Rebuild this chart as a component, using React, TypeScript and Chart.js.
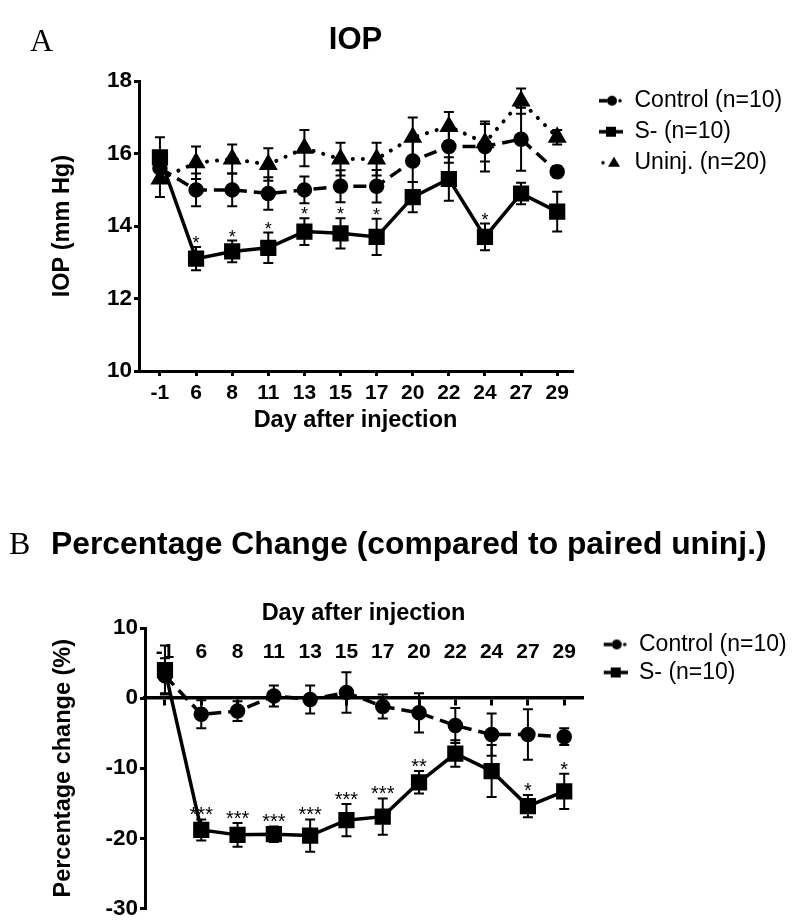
import React, { useEffect, useRef } from 'react';
import { Chart, registerables } from 'chart.js';

Chart.register(...registerables);

// ---------- data ----------
const days = ['-1', '6', '8', '11', '13', '15', '17', '20', '22', '24', '27', '29'];

// Panel A: IOP (mm Hg)
const controlA = [15.6, 15.0, 15.0, 14.9, 15.0, 15.1, 15.1, 15.8, 16.2, 16.2, 16.4, 15.5];
const controlAErr = [0.4, 0.45, 0.45, 0.45, 0.37, 0.44, 0.45, 0.58, 0.45, 0.69, 0.87, 0.15];
const sMinusA = [15.9, 13.1, 13.3, 13.4, 13.85, 13.8, 13.7, 14.8, 15.3, 13.7, 14.9, 14.4];
const sMinusAErr = [0.55, 0.32, 0.3, 0.42, 0.37, 0.42, 0.5, 0.42, 0.6, 0.37, 0.3, 0.55];
const uninjA = [15.3, 15.75, 15.85, 15.7, 16.15, 15.85, 15.85, 16.45, 16.75, 16.3, 17.45, 16.45];
const uninjAErr = [0.5, 0.45, 0.4, 0.45, 0.5, 0.45, 0.45, 0.55, 0.4, 0.52, 0.35, 0.2];
const starsA = ['', '*', '*', '*', '*', '*', '*', '', '', '*', '', ''];

// Panel B: percentage change (%)
const controlB = [3.2, -2.3, -1.85, 0.3, -0.2, 0.8, -1.2, -2.1, -3.9, -5.2, -5.2, -5.5];
const controlBErr = [2.5, 2.0, 1.4, 1.5, 2.0, 2.9, 1.7, 2.8, 2.5, 3.0, 3.6, 1.2];
const sMinusB = [4.0, -18.8, -19.5, -19.4, -19.6, -17.4, -16.9, -12.0, -7.9, -10.4, -15.4, -13.3];
const sMinusBErr = [3.5, 1.5, 1.7, 1.1, 2.3, 2.3, 2.6, 1.6, 1.9, 3.7, 1.6, 2.5];
const starsB = ['', '***', '***', '***', '***', '***', '***', '**', '', '', '*', '*'];

const labelControl = 'Control (n=10)';
const labelS = 'S- (n=10)';
const labelUninj = 'Uninj. (n=20)';

// ---------- helpers ----------
const FONT = 'Arial, "Liberation Sans", Helvetica, sans-serif';
const BLACK = '#000';

const toPoints = (vals: number[]) => vals.map((y, i) => ({ x: i, y }));

function makeSymbol(kind: string, w: number): HTMLCanvasElement {
  const c = document.createElement('canvas');
  c.width = w;
  c.height = 16;
  const ctx = c.getContext('2d') as CanvasRenderingContext2D;
  const x0 = w - 24;
  const cy = 8;
  ctx.fillStyle = BLACK;
  ctx.strokeStyle = BLACK;
  ctx.lineWidth = 3.5;
  if (kind === 'control') {
    ctx.beginPath();
    ctx.moveTo(x0, cy);
    ctx.lineTo(x0 + 8, cy);
    ctx.stroke();
    ctx.beginPath();
    ctx.arc(x0 + 13, cy, 5, 0, Math.PI * 2);
    ctx.fill();
    ctx.beginPath();
    ctx.arc(x0 + 21, cy, 1.8, 0, Math.PI * 2);
    ctx.fill();
  } else if (kind === 's') {
    ctx.beginPath();
    ctx.moveTo(x0, cy);
    ctx.lineTo(x0 + 24, cy);
    ctx.stroke();
    ctx.fillRect(x0 + 7, cy - 5, 10, 10);
  } else {
    ctx.beginPath();
    ctx.arc(x0 + 4, cy, 1.8, 0, Math.PI * 2);
    ctx.fill();
    ctx.beginPath();
    ctx.moveTo(x0 + 15, cy - 6);
    ctx.lineTo(x0 + 21, cy + 4);
    ctx.lineTo(x0 + 9, cy + 4);
    ctx.closePath();
    ctx.fill();
  }
  return c;
}

const errorStarsPlugin = {
  id: 'errStars',
  afterDatasetsDraw(chart: any, _args: any, opts: any) {
    const ctx = chart.ctx;
    const xs = chart.scales.x;
    const ys = chart.scales.y;
    ctx.save();
    chart.data.datasets.forEach((ds: any) => {
      const errs: number[] | undefined = ds.errors;
      if (!errs) return;
      ds.data.forEach((p: any, i: number) => {
        const x = xs.getPixelForValue(p.x);
        const yTop = ys.getPixelForValue(p.y + errs[i]);
        const yBot = ys.getPixelForValue(p.y - errs[i]);
        ctx.strokeStyle = BLACK;
        ctx.lineWidth = 2;
        ctx.beginPath();
        ctx.moveTo(x, yTop);
        ctx.lineTo(x, yBot);
        ctx.moveTo(x - 5, yTop);
        ctx.lineTo(x + 5, yTop);
        ctx.moveTo(x - 5, yBot);
        ctx.lineTo(x + 5, yBot);
        ctx.stroke();
        const s = ds.stars ? ds.stars[i] : '';
        if (s) {
          ctx.fillStyle = BLACK;
          ctx.font = `${opts.starSize || 18}px ${FONT}`;
          ctx.textAlign = 'center';
          ctx.textBaseline = 'alphabetic';
          ctx.fillText(s, x, yTop + 2);
        }
      });
    });
    ctx.restore();
  },
};

// lets the right-hand legend be wider than Chart.js' default cap
const legendWidthPlugin = {
  id: 'legendWidth',
  beforeLayout(chart: any, _args: any, opts: any) {
    const lg = chart.legend;
    if (lg && opts && opts.width && !lg.__widthPatched) {
      const proto = Object.getPrototypeOf(lg);
      const w = opts.width;
      lg.fit = function () {
        proto.fit.call(this);
        this.width = w;
      };
      lg.__widthPatched = true;
    }
  },
};

function legendLabels(symbols: HTMLCanvasElement[]) {
  return (chart: any) => {
    const items = Chart.defaults.plugins.legend.labels.generateLabels(chart);
    return items.map((it: any, i: number) => ({ ...it, pointStyle: symbols[i], fontColor: BLACK }));
  };
}

const axisCommon = {
  grid: { display: true, drawOnChartArea: false, drawTicks: true, color: BLACK, lineWidth: 3 },
  border: { display: true, color: BLACK, width: 3 },
};

// ---------- Panel A ----------
function PanelA() {
  const ref = useRef<HTMLCanvasElement>(null);
  useEffect(() => {
    if (!ref.current) return;
    const symbols = [makeSymbol('control', 43), makeSymbol('s', 43), makeSymbol('uninj', 43)];
    const chart = new Chart(ref.current, {
      type: 'line',
      data: {
        datasets: [
          {
            label: labelControl,
            data: toPoints(controlA),
            errors: controlAErr,
            borderColor: BLACK,
            backgroundColor: BLACK,
            borderWidth: 3.5,
            borderDash: [13, 7],
            pointStyle: 'circle',
            pointRadius: 6,
            pointBackgroundColor: BLACK,
            pointBorderColor: BLACK,
            tension: 0,
          },
          {
            label: labelS,
            data: toPoints(sMinusA),
            errors: sMinusAErr,
            stars: starsA,
            borderColor: BLACK,
            backgroundColor: BLACK,
            borderWidth: 3.5,
            pointStyle: 'rect',
            pointRadius: 9,
            pointBackgroundColor: BLACK,
            pointBorderColor: BLACK,
            tension: 0,
          },
          {
            label: labelUninj,
            data: toPoints(uninjA),
            errors: uninjAErr,
            borderColor: BLACK,
            backgroundColor: BLACK,
            borderWidth: 4,
            borderDash: [0.1, 10],
            borderCapStyle: 'round',
            pointStyle: 'triangle',
            pointRadius: 7,
            pointBackgroundColor: BLACK,
            pointBorderColor: BLACK,
            tension: 0,
          },
        ] as any,
      },
      options: {
        animation: false,
        responsive: false,
        layout: { padding: { left: 40, right: 0, top: 14, bottom: 25 } },
        plugins: {
          title: {
            display: true,
            text: 'IOP',
            fullSize: false,
            color: BLACK,
            font: { family: FONT, size: 31, weight: 'bold' },
            padding: { top: 8, bottom: 22 },
          },
          legend: {
            position: 'right',
            align: 'start',
            fullSize: false,
            labels: {
              usePointStyle: true,
              pointStyleWidth: 43,
              padding: 8,
              color: BLACK,
              font: { family: FONT, size: 23 },
              generateLabels: legendLabels(symbols),
            },
          },
          legendWidth: { width: 223 },
          tooltip: { enabled: false },
          errStars: { starSize: 18 },
        } as any,
        scales: {
          x: {
            type: 'linear',
            min: -0.58,
            max: 11.41,
            afterBuildTicks: (s: any) => {
              s.ticks = days.map((_, i) => ({ value: i }));
            },
            ticks: {
              autoSkip: false,
              maxRotation: 0,
              padding: 5,
              color: BLACK,
              font: { family: FONT, size: 21, weight: 'bold' },
              callback: (v: any) => days[v as number],
            },
            grid: { ...axisCommon.grid, tickLength: 5 },
            border: axisCommon.border,
            title: {
              display: true,
              text: 'Day after injection',
              color: BLACK,
              font: { family: FONT, size: 23.5, weight: 'bold' },
              padding: { top: 1, bottom: 0 },
            },
            afterFit: (s: any) => {
              s.height = 64;
            },
          },
          y: {
            min: 10,
            max: 18,
            ticks: {
              stepSize: 2,
              padding: 2,
              color: BLACK,
              font: { family: FONT, size: 22.5, weight: 'bold' },
            },
            grid: { ...axisCommon.grid, tickLength: 5 },
            border: axisCommon.border,
            title: {
              display: true,
              text: 'IOP (mm Hg)',
              color: BLACK,
              font: { family: FONT, size: 23.5, weight: 'bold' },
              padding: { top: 8, bottom: 0 },
            },
            afterFit: (s: any) => {
              s.width = 99;
            },
          },
        } as any,
      },
      plugins: [errorStarsPlugin, legendWidthPlugin],
    });
    return () => chart.destroy();
  }, []);
  return <canvas ref={ref} width={795} height={460} style={{ position: 'absolute', left: 0, top: 0, width: 795, height: 460 }} />;
}

// ---------- Panel B ----------
function PanelB() {
  const ref = useRef<HTMLCanvasElement>(null);
  useEffect(() => {
    if (!ref.current) return;
    const symbols = [makeSymbol('control', 41), makeSymbol('s', 41)];
    const chart = new Chart(ref.current, {
      type: 'line',
      data: {
        datasets: [
          {
            label: labelControl,
            data: toPoints(controlB),
            errors: controlBErr,
            borderColor: BLACK,
            backgroundColor: BLACK,
            borderWidth: 3.5,
            borderDash: [13, 7],
            pointStyle: 'circle',
            pointRadius: 6,
            pointBackgroundColor: BLACK,
            pointBorderColor: BLACK,
            tension: 0,
          },
          {
            label: labelS,
            data: toPoints(sMinusB),
            errors: sMinusBErr,
            stars: starsB,
            borderColor: BLACK,
            backgroundColor: BLACK,
            borderWidth: 3.5,
            pointStyle: 'rect',
            pointRadius: 9,
            pointBackgroundColor: BLACK,
            pointBorderColor: BLACK,
            tension: 0,
          },
        ] as any,
      },
      options: {
        animation: false,
        responsive: false,
        layout: { padding: { left: 40, right: 0, top: 68, bottom: 5 } },
        plugins: {
          legend: {
            position: 'right',
            align: 'start',
            fullSize: false,
            labels: {
              usePointStyle: true,
              pointStyleWidth: 40.5,
              padding: 5,
              color: BLACK,
              font: { family: FONT, size: 23 },
              generateLabels: legendLabels(symbols),
            },
          },
          legendWidth: { width: 213 },
          tooltip: { enabled: false },
          errStars: { starSize: 20 },
        } as any,
        scales: {
          x: {
            type: 'linear',
            position: { y: 0 },
            min: -0.55,
            max: 11.49,
            afterBuildTicks: (s: any) => {
              s.ticks = days.map((_, i) => ({ value: i }));
            },
            ticks: {
              autoSkip: false,
              maxRotation: 0,
              padding: -65,
              color: BLACK,
              font: { family: FONT, size: 21, weight: 'bold' },
              callback: (v: any) => days[v as number],
            },
            grid: { ...axisCommon.grid, tickLength: 6 },
            border: { display: true, color: BLACK, width: 3.5 },
            title: {
              display: true,
              text: 'Day after injection',
              color: BLACK,
              font: { family: FONT, size: 23.5, weight: 'bold' },
              padding: { top: 0, bottom: 73 },
            },
            afterFit: (s: any) => {
              s.height = 2;
            },
          },
          y: {
            min: -30,
            max: 10,
            ticks: {
              stepSize: 10,
              padding: 2,
              color: BLACK,
              font: { family: FONT, size: 22.5, weight: 'bold' },
            },
            grid: { ...axisCommon.grid, tickLength: 5 },
            border: axisCommon.border,
            title: {
              display: true,
              text: 'Percentage change (%)',
              color: BLACK,
              font: { family: FONT, size: 23.5, weight: 'bold' },
              padding: { top: 9, bottom: 0 },
            },
            afterFit: (s: any) => {
              s.width = 105;
            },
          },
        } as any,
      },
      plugins: [errorStarsPlugin, legendWidthPlugin],
    });
    return () => chart.destroy();
  }, []);
  return <canvas ref={ref} width={795} height={364} style={{ position: 'absolute', left: 0, top: 560, width: 795, height: 364 }} />;
}

export default function App() {
  return (
    <div style={{ position: 'absolute', left: 0, top: 0, width: 795, height: 924, overflow: 'hidden', background: '#fff' }}>
      <PanelA />
      <PanelB />
      <div style={{ position: 'absolute', left: 30, top: 24, fontFamily: '"Liberation Serif", "Times New Roman", serif', fontSize: 32, lineHeight: '32px', color: BLACK }}>A</div>
      <div style={{ position: 'absolute', left: 9, top: 527, fontFamily: '"Liberation Serif", "Times New Roman", serif', fontSize: 32, lineHeight: '32px', color: BLACK }}>B</div>
      <div style={{ position: 'absolute', left: 51, top: 524, fontFamily: FONT, fontWeight: 'bold', fontSize: 31.8, lineHeight: '38px', color: BLACK, whiteSpace: 'nowrap' }}>Percentage Change (compared to paired uninj.)</div>
    </div>
  );
}
